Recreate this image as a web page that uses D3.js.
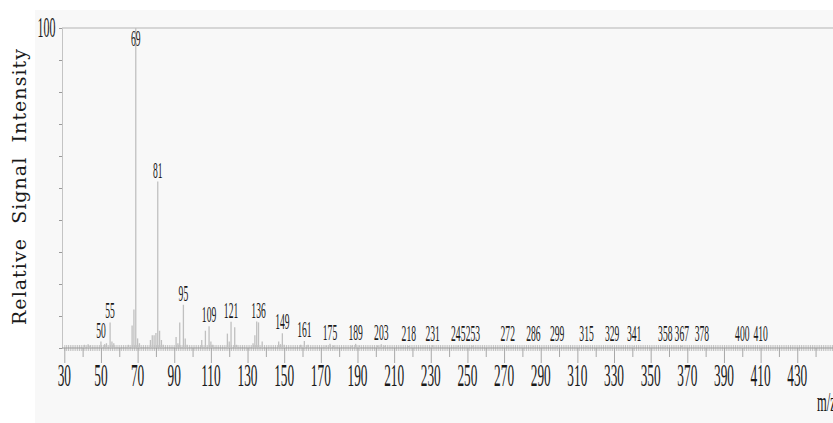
<!DOCTYPE html>
<html>
<head>
<meta charset="utf-8">
<script src="https://cdn.jsdelivr.net/npm/d3@7/dist/d3.min.js"></script>
<style>
  body { margin: 0; background: #ffffff; }
  svg text { font-family: "Liberation Serif", "Times New Roman", serif; fill: #1a1a1a; }
</style>
</head>
<body>
<svg id="chart" width="833" height="423"></svg>
<script>
// Labelled peaks: m/z and relative intensity (%)
const labeledMz = [50, 55, 69, 81, 95, 109, 121, 136, 149, 161, 175, 189, 203, 218, 231, 245, 253, 272, 286, 299, 315, 329, 341, 358, 367, 378, 400, 410];
const labeledIntensity = [2, 8, 100, 52, 13.5, 6.8, 8.2, 8, 4.6, 2.2, 1.3, 1.3, 1.2, 0.6, 0.9, 0.8, 0.8, 0.5, 0.5, 0.6, 0.5, 0.5, 0.6, 0.5, 0.8, 0.4, 0.4, 0.4];

// Unlabelled fragment peaks
const minorMz = [41, 43, 44, 52, 53, 56, 57, 65, 67, 68, 70, 71, 77, 78, 79, 80, 82, 83, 84, 91, 92, 93, 96, 97, 105, 107, 110, 111, 119, 120, 123, 124, 133, 134, 135, 138, 147, 148, 150, 159, 163, 173, 177, 187, 191, 201, 205];
const minorIntensity = [1, 1.2, 0.8, 1.2, 1.5, 2, 1.5, 1, 7, 12, 3, 1.5, 2.5, 4, 4, 4.7, 5.4, 2.5, 1, 3.4, 1.5, 8, 3, 1, 2.5, 5.4, 2, 1, 4.5, 2, 6.5, 1, 1.5, 4, 8.3, 2, 2, 1.2, 1, 1, 1, 0.8, 0.8, 0.8, 0.8, 0.8, 0.8];

// Axis ticks
const xTickLabels = [30, 50, 70, 90, 110, 130, 150, 170, 190, 210, 230, 250, 270, 290, 310, 330, 350, 370, 390, 410, 430];
const xMidTicks = [40, 60, 80, 100, 120, 140, 160, 180, 200, 220, 240, 260, 280, 300, 320, 340, 360, 380, 400, 420, 440];
const yTicks = [0, 10, 20, 30, 40, 50, 60, 70, 80, 90, 100];

const svg = d3.select("#chart");
const W = 833, H = 423;
const plotLeft = 62, plotTop = 28, plotBottom = 348;

const x = d3.scaleLinear().domain([30, 450]).range([64.3, 833.9]);
const y = d3.scaleLinear().domain([0, 100]).range([plotBottom, plotTop]);

// panel background
svg.append("rect").attr("x", 35).attr("y", 10).attr("width", W - 35).attr("height", H - 10)
  .attr("fill", "#f8f8f8");

// condensed serif text helper
function ctext(g, px, py, str, size, sx, anchor) {
  return g.append("text")
    .attr("transform", `translate(${px},${py}) scale(${sx},1)`)
    .attr("text-anchor", anchor || "middle")
    .attr("font-size", size)
    .text(str);
}

// top frame line
svg.append("line").attr("x1", plotLeft).attr("x2", W).attr("y1", plotTop).attr("y2", plotTop)
  .attr("stroke", "#b4b4b4").attr("stroke-width", 1);

// y axis
const yAxis = d3.axisLeft(y).tickValues(yTicks).tickSize(3).tickFormat("");
const gy = svg.append("g").attr("transform", `translate(${plotLeft},0)`).call(yAxis);
gy.select(".domain").attr("stroke", "#c4c4c4");
gy.selectAll(".tick line").attr("stroke", "#9a9a9a");
ctext(svg, 55.5, 37, "100", 30, 0.4, "end");

// y title
svg.append("text")
  .attr("transform", "translate(26,325) rotate(-90)")
  .attr("font-size", 19)
  .attr("textLength", 276)
  .attr("lengthAdjust", "spacing")
  .style("white-space", "pre")
  .style("font-family", "'DejaVu Serif', serif")
  .text("Relative  Signal  Intensity");

// x axis: minor ticks every 1 m/z, crossing the baseline
const minorAxis = d3.axisBottom(x).tickValues(d3.range(30, 451, 1)).tickSize(6).tickFormat("");
const gMinor = svg.append("g").attr("transform", `translate(0,${plotBottom - 3})`).call(minorAxis);
gMinor.select(".domain").remove();
gMinor.selectAll(".tick line").attr("stroke", "#bcbcbc").attr("stroke-width", 0.9);

const midAxis = d3.axisBottom(x).tickValues(xMidTicks).tickSize(9).tickFormat("");
const gMid = svg.append("g").attr("transform", `translate(0,${plotBottom})`).call(midAxis);
gMid.select(".domain").remove();
gMid.selectAll(".tick line").attr("stroke", "#a8a8a8");

const majorAxis = d3.axisBottom(x).tickValues(xTickLabels).tickSize(15).tickFormat("");
const gMajor = svg.append("g").attr("transform", `translate(0,${plotBottom})`).call(majorAxis);
gMajor.select(".domain").remove();
gMajor.selectAll(".tick line").attr("stroke", "#a8a8a8");

xTickLabels.forEach(v => ctext(svg, x(v), 386, String(v), 31, 0.43));

// baseline
svg.append("line").attr("x1", plotLeft).attr("x2", W).attr("y1", plotBottom).attr("y2", plotBottom)
  .attr("stroke", "#9c9c9c").attr("stroke-width", 1);

ctext(svg, 817, 411, "m/z", 28, 0.45, "start");

// peaks
const peaks = labeledMz.map((m, i) => ({ mz: m, v: labeledIntensity[i], label: true }))
  .concat(minorMz.map((m, i) => ({ mz: m, v: minorIntensity[i], label: false })));

svg.append("g").selectAll("line").data(peaks).join("line")
  .attr("x1", d => x(d.mz)).attr("x2", d => x(d.mz))
  .attr("y1", plotBottom).attr("y2", d => y(d.v))
  .attr("stroke", "#c0c0c0").attr("stroke-width", 1.3);

// peak labels
const gl = svg.append("g");
peaks.filter(d => d.label).forEach(d => {
  const by = Math.min(Math.max(y(d.v) - 4, 46), 341);
  ctext(gl, x(d.mz), by, String(d.mz), 24, 0.4);
});
</script>
</body>
</html>
